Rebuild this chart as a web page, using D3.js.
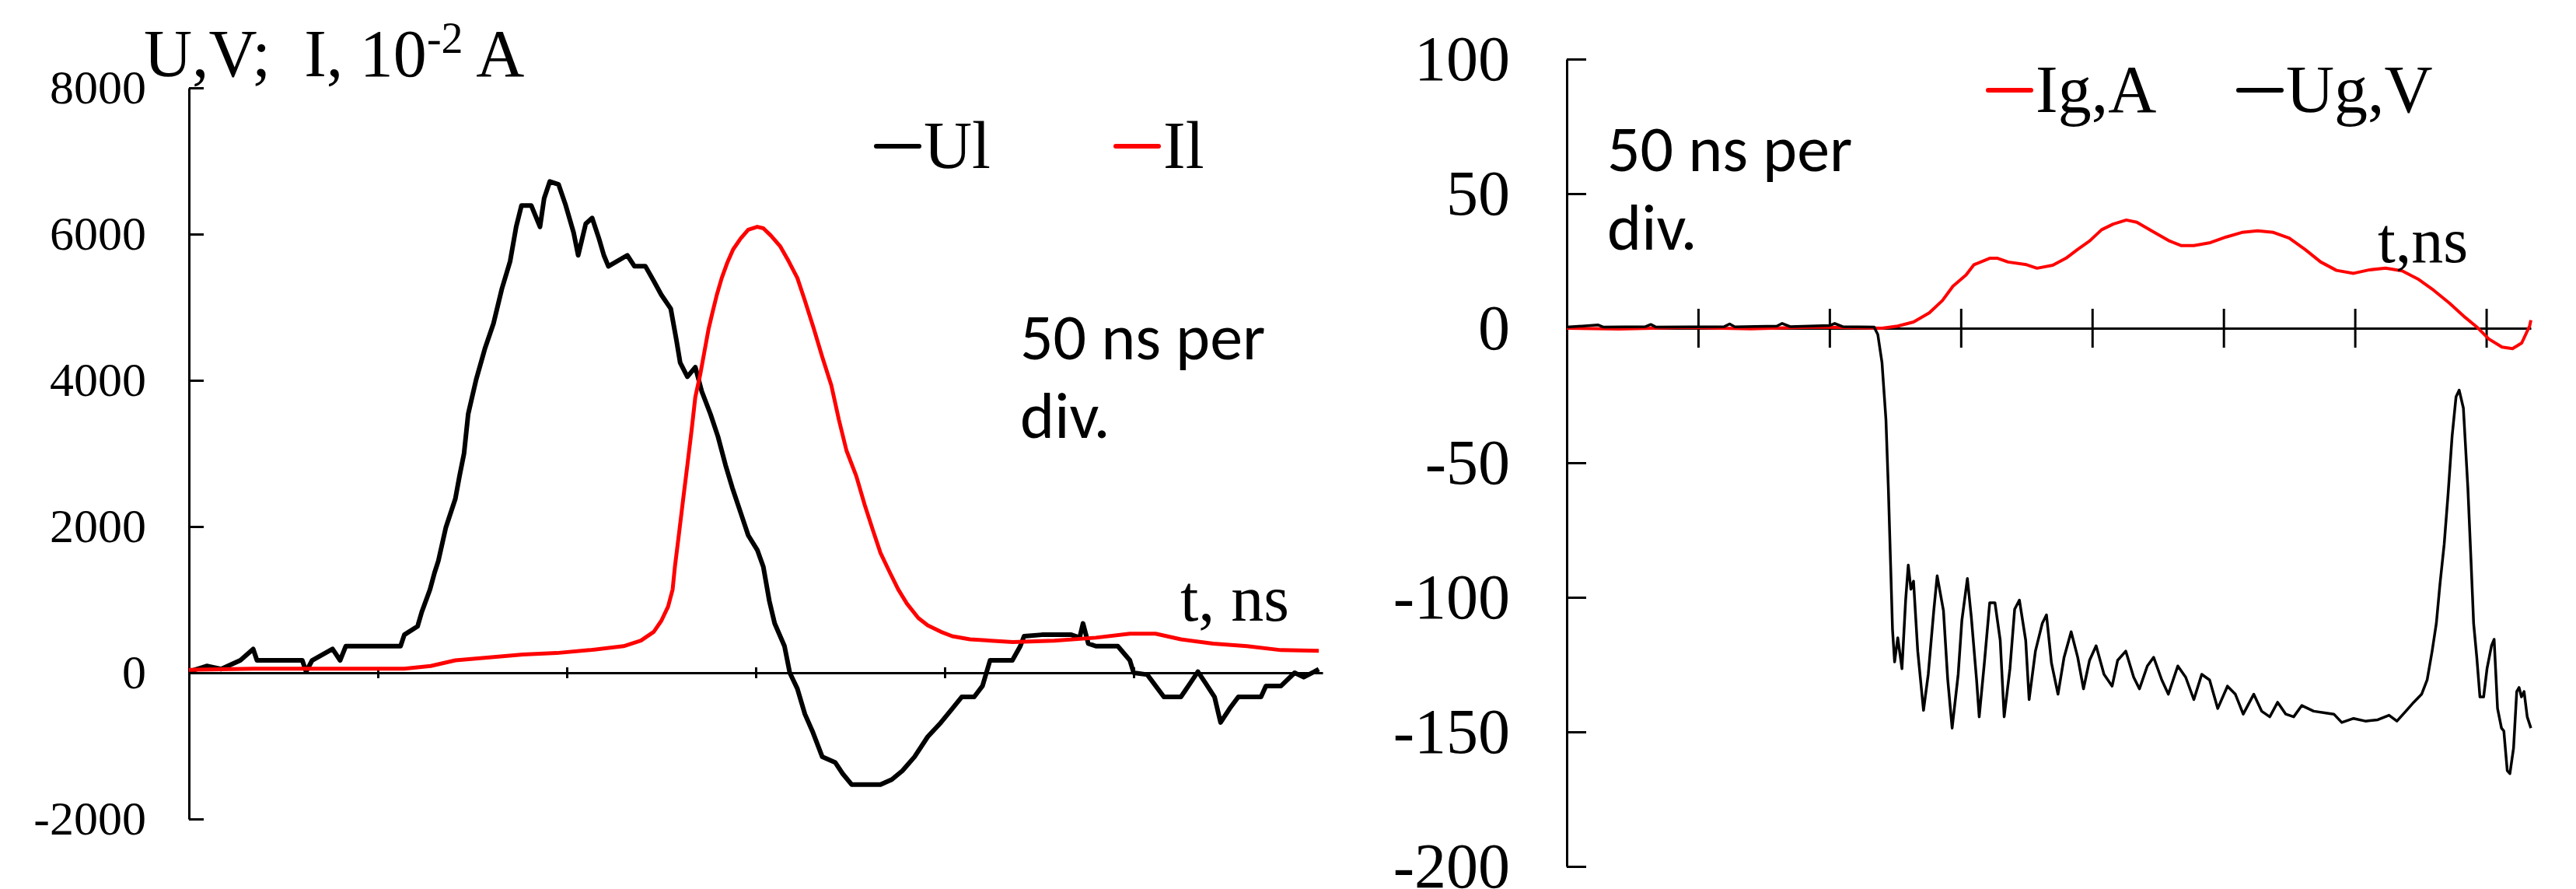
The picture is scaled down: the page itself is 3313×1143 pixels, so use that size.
<!DOCTYPE html>
<html>
<head>
<meta charset="utf-8">
<script src="https://cdn.jsdelivr.net/npm/d3@7"></script>
<style>
  body { margin: 0; background: #fff; }
  text { fill: #000; }
</style>
</head>
<body>
<div id="my_dataviz"></div>
<script>
// left chart: load voltage Ul (V) and load current Il (10^-2 A) vs time, ns
const ulData = [
  [0, 15], [4.7, 93], [8.5, 50], [13.6, 170], [17, 325], [18, 170], [30, 170], [31, 15],
  [32.6, 170], [38, 325], [40, 170], [41.5, 364], [56, 364], [57, 520], [60.5, 635],
  [61.6, 830], [63.8, 1140], [65, 1370], [66, 1530], [68, 1990], [70.5, 2380], [71.6, 2690],
  [72.8, 3000], [73.9, 3540], [76, 4010], [78.3, 4430], [80.6, 4780], [82.8, 5250],
  [85, 5630], [86.6, 6100], [88, 6390], [90.6, 6390], [92.9, 6100], [94, 6490],
  [95.5, 6720], [97.8, 6680], [99.6, 6410], [101.8, 6020], [103, 5710], [105, 6140],
  [106.7, 6220], [108.5, 5940], [109.8, 5710], [111, 5560], [116, 5710], [117.9, 5560],
  [120.8, 5560], [123, 5360], [125, 5170], [127.5, 4980], [129, 4550], [130, 4240],
  [131.9, 4050], [134, 4180], [135.7, 3850], [138, 3540], [140, 3230], [142, 2840],
  [143.8, 2530], [146, 2190], [148, 1880], [150.4, 1680], [152, 1450], [153.6, 980],
  [155, 675], [157.6, 364], [159, 0], [161, -217], [163, -565], [165, -800], [167.6, -1150],
  [171, -1225], [173, -1380], [175.4, -1530], [178.8, -1530], [183, -1530], [186, -1460],
  [188.8, -1340], [192, -1150], [195.5, -875], [199, -680], [202, -490], [204.5, -330],
  [207.8, -330], [210, -180], [212, 170], [217.9, 170], [220, 364], [221, 500],
  [225.7, 520], [233.5, 520], [235.7, 480], [236.6, 675], [238, 400], [240, 364],
  [245.8, 364], [249, 170], [250, 0], [253.6, -25], [258, -330], [262.5, -330],
  [265, -140], [267, 15], [269, -140], [271.4, -330], [273, -680], [275.4, -490],
  [277.7, -330], [283.7, -330], [285, -180], [289, -180], [292.6, 0], [295, -60],
  [297.8, 15], [299, 50],
];

const ilData = [
  [0, 40], [17, 55], [39, 55], [57, 55], [64, 93], [70.5, 170], [79.5, 210], [88.4, 250],
  [97.3, 270], [106, 310], [115, 364], [119.6, 440], [123, 560], [125, 710], [126.8, 905],
  [128, 1140], [128.6, 1450], [129.7, 1910], [130.8, 2380], [131.9, 2840], [133, 3310],
  [134, 3770], [135.3, 4080], [136.4, 4390], [137.5, 4700], [138.6, 4940], [139.7, 5170],
  [141, 5400], [142.4, 5600], [144, 5790], [146, 5940], [148, 6060], [150.4, 6100],
  [152, 6080], [154, 5980], [156.5, 5830], [158.7, 5630], [161, 5400], [163, 5090],
  [165.4, 4700], [167.6, 4320], [170, 3930], [172, 3460], [174, 3040], [176.6, 2690],
  [178.8, 2300], [181, 1950], [183, 1640], [185.5, 1370], [187.7, 1140], [190, 945],
  [193, 750], [195.5, 650], [199, 560], [202, 500], [206.7, 457], [218, 420], [229, 440],
  [240, 480], [249, 535], [255.8, 535], [262.5, 457], [271, 400], [280, 364], [289, 310],
  [299, 300],
];

// right chart: grid current Ig (A) and grid voltage Ug (V) vs time, ns
const igData = [
  [0, 0], [20, -0.3], [45, 0.3], [70, -0.2], [95, 0.4], [120, 0], [126, 0.8], [132, 2.3],
  [138, 5.7], [143, 10.3], [147, 15.6], [152, 19.8], [155, 23.6], [161, 26], [164, 26],
  [168, 24.6], [175, 23.6], [179, 22.3], [185, 23.4], [190, 26], [194.5, 29.3], [199, 32.4],
  [203.6, 36.6], [208, 38.7], [213, 40.2], [217, 39.4], [223, 36], [229.5, 32.4],
  [234, 30.7], [238.7, 30.7], [245, 31.8], [251, 33.9], [257, 35.6], [263, 36.2],
  [269, 35.6], [275, 33.5], [281, 29.3], [287, 24.6], [293, 21.5], [299.5, 20.4],
  [305.6, 21.7], [311.7, 22.3], [318, 21.3], [324, 18.3], [330, 14.1], [336, 9.3],
  [342, 4.0], [346.7, 0.2], [351, -4], [356, -7], [360, -7.6], [363.5, -5.5],
  [366.5, 0.8], [367, 3],
];

const ugData = [
  [0, 0.4], [12, 1.2], [14, 0.4], [30, 0.6], [32, 1.4], [34, 0.4], [60, 0.6], [62, 1.6],
  [64, 0.5], [80, 0.8], [82, 1.8], [85, 0.6], [100, 1], [102, 1.8], [105, 0.6],
  [117, 0.4], [118.4, -2.3], [120, -12.8], [121.5, -34], [122.4, -59], [123.3, -88.6],
  [124, -112], [124.8, -124], [126, -115], [127.6, -126.5], [129, -101], [130, -88],
  [131, -97], [132, -94], [133.6, -120], [135.8, -142], [137.6, -128.6], [139.7, -105],
  [141, -92], [143.4, -105], [145, -130.3], [146.7, -148.6], [149, -128.6], [150.4, -108.6],
  [152.5, -93], [154, -107.4], [156, -130.7], [157, -144.4], [159, -124], [161, -102],
  [163, -102], [165, -116], [166.5, -144.4], [168.7, -126.5], [170.5, -104.4], [172.3, -101],
  [174.7, -116], [176, -138], [178.4, -120], [181, -109.7], [182.6, -106.5], [184.5, -124.4],
  [187, -136], [189.3, -122.3], [192, -112.8], [194.5, -122.3], [196.7, -134], [199, -123.4],
  [201.5, -118], [204.5, -128.6], [207.6, -133], [209.7, -123.4], [212.8, -120],
  [215.8, -129.7], [218, -134], [221, -125.5], [223.4, -122.3], [226.5, -130.7], [229, -136],
  [232.6, -125.5], [235.6, -129.7], [238.7, -138], [241.7, -128.6], [244.7, -130.7],
  [247.8, -141.3], [251.5, -133], [254.5, -136], [257.5, -143.4], [261.5, -136],
  [264.5, -142.3], [267.6, -144.4], [270.6, -139], [273.7, -143.4], [276.7, -144.4],
  [279.8, -140.2], [284.3, -142.3], [289, -143], [292, -143.4], [295, -146.5], [299.5, -145],
  [304, -146], [308.7, -145.5], [313, -143.8], [316, -146], [319.4, -142.3], [322.4, -139],
  [325.4, -136], [327.5, -130.7], [329.4, -120], [331, -109.7], [332.4, -95], [334, -80.2],
  [335.5, -61.3], [337, -40.2], [338.5, -25.5], [339.7, -23], [341.3, -29.7], [343, -59.2],
  [344.3, -88.6], [345.2, -109.7], [346.4, -122.3], [347.6, -137], [349, -137],
  [350.3, -126.5], [352, -118], [353, -115.6], [354.3, -141.3], [355.8, -148.6],
  [356.7, -149.7], [358, -164.4], [359, -165.5], [360.4, -156], [361.6, -135], [362.5, -133.5],
  [363.4, -137], [364.4, -135], [365.6, -144.4], [367, -148.6],
];

// ticks
const leftYTicks = [-2000, 0, 2000, 4000, 6000, 8000];
const leftXTicks = [50, 100, 150, 200, 250];
const rightYTicks = [-200, -150, -100, -50, 0, 50, 100];
const rightXTicks = [50, 100, 150, 200, 250, 300, 350];

const serif = '"Liberation Serif", "Times New Roman", serif';
const sans = 'Carlito, Calibri, Lato, "Open Sans", sans-serif';
const plain = (d) => String(d); // hyphen minus, no thousands separator

const svg = d3
  .select('#my_dataviz')
  .append('svg')
  .attr('width', 3313)
  .attr('height', 1143);

// ---------- left chart ----------
const xL = d3.scaleLinear().domain([0, 300]).range([243, 1701]);
const yL = d3.scaleLinear().domain([-2000, 8000]).range([1053, 113]);

// y axis
const yAxisL = svg
  .append('g')
  .attr('transform', `translate(${xL(0)},0)`)
  .call(
    d3.axisLeft(yL).tickValues(leftYTicks).tickFormat(plain)
      .tickSize(19).tickPadding(36).tickSizeOuter(0),
  );
yAxisL.selectAll('.tick line').attr('x2', 19);
yAxisL.selectAll('.tick text').style('font-family', serif).style('font-size', '62px');

// x axis through zero
const xAxisL = svg
  .append('g')
  .attr('transform', `translate(0,${yL(0)})`)
  .call(d3.axisBottom(xL).tickValues(leftXTicks).tickFormat('').tickSize(7).tickSizeOuter(0));
xAxisL.selectAll('.tick line').attr('y1', -7);

const line = (x, y) => d3.line().x((d) => x(d[0])).y((d) => y(d[1]));

svg.append('path')
  .datum(ulData)
  .attr('fill', 'none')
  .attr('stroke', '#000')
  .attr('stroke-width', 6)
  .attr('stroke-linejoin', 'round')
  .attr('d', line(xL, yL));

svg.append('path')
  .datum(ilData)
  .attr('fill', 'none')
  .attr('stroke', '#ff0000')
  .attr('stroke-width', 5)
  .attr('stroke-linejoin', 'round')
  .attr('d', line(xL, yL));

// title
const title = svg.append('text')
  .attr('x', 185)
  .attr('y', 98)
  .attr('xml:space', 'preserve')
  .style('font-family', serif)
  .style('font-size', '86px');
title.append('tspan').text('U,V;  I, 10');
title.append('tspan').attr('dy', -30).style('font-size', '56px').text('-2');
title.append('tspan').attr('dy', 30).text(' A');

// legend
function legendItem(x, y, color, label) {
  svg.append('line')
    .attr('x1', x).attr('x2', x + 55)
    .attr('y1', y - 28).attr('y2', y - 28)
    .attr('stroke', color)
    .attr('stroke-width', 6)
    .attr('stroke-linecap', 'round');
  svg.append('text')
    .attr('x', x + 61)
    .attr('y', y)
    .style('font-family', serif)
    .style('font-size', '86px')
    .text(label);
}
legendItem(1127, 216, '#000', 'Ul');
legendItem(1435, 216, '#ff0000', 'Il');

// notes
function note(x, y, lines) {
  lines.forEach((t, i) => {
    svg.append('text')
      .attr('x', x)
      .attr('y', y + i * 101)
      .style('font-family', sans)
      .style('font-size', '84px')
      .text(t);
  });
}
note(1312, 462, ['50 ns per', 'div.']);

svg.append('text')
  .attr('x', 1518)
  .attr('y', 798)
  .style('font-family', serif)
  .style('font-size', '84px')
  .text('t, ns');

// ---------- right chart ----------
const xR = d3.scaleLinear().domain([0, 367]).range([2015, 3255]);
const yR = d3.scaleLinear().domain([-200, 100]).range([1114, 76]);

const yAxisR = svg
  .append('g')
  .attr('transform', `translate(${xR(0)},0)`)
  .call(
    d3.axisLeft(yR).tickValues(rightYTicks).tickFormat(plain)
      .tickSize(25).tickPadding(48).tickSizeOuter(0),
  );
yAxisR.selectAll('.tick line').attr('x2', 25);
yAxisR.selectAll('.tick text').style('font-family', serif).style('font-size', '82px');

const xAxisR = svg
  .append('g')
  .attr('transform', `translate(0,${yR(0)})`)
  .call(d3.axisBottom(xR).tickValues(rightXTicks).tickFormat('').tickSize(25).tickSizeOuter(0));
xAxisR.selectAll('.tick line').attr('y1', -25);

svg.append('path')
  .datum(igData)
  .attr('fill', 'none')
  .attr('stroke', '#ff0000')
  .attr('stroke-width', 4)
  .attr('stroke-linejoin', 'round')
  .attr('d', line(xR, yR));

svg.append('path')
  .datum(ugData)
  .attr('fill', 'none')
  .attr('stroke', '#000')
  .attr('stroke-width', 3.5)
  .attr('stroke-linejoin', 'round')
  .attr('d', line(xR, yR));

legendItem(2557, 144, '#ff0000', 'Ig,A');
legendItem(2879, 144, '#000', 'Ug,V');

note(2067, 220, ['50 ns per', 'div.']);

svg.append('text')
  .attr('x', 3058)
  .attr('y', 337)
  .style('font-family', serif)
  .style('font-size', '82px')
  .text('t,ns');

// axis styling
svg.selectAll('.domain, .tick line').attr('stroke', '#000').attr('stroke-width', 3);
</script>
</body>
</html>
